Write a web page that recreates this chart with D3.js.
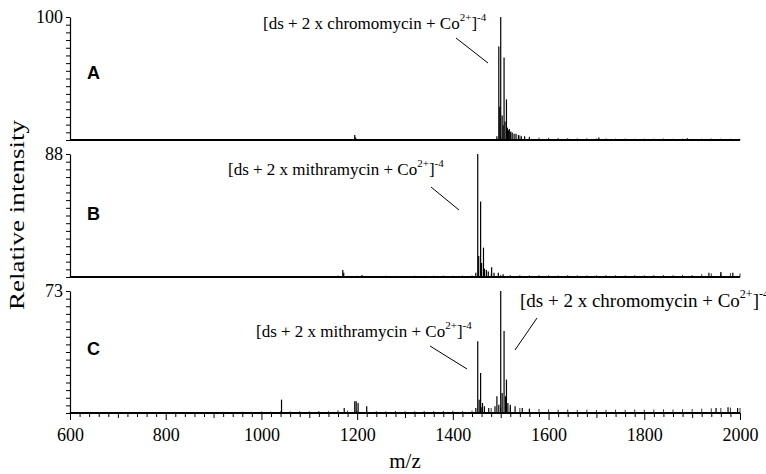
<!DOCTYPE html>
<html lang="en">
<head>
<meta charset="utf-8">
<title>ESI spectra</title>
<script src="https://cdn.jsdelivr.net/npm/d3@7/dist/d3.min.js"></script>
<style>
  body { margin: 0; background: #fff; }
</style>
</head>
<body>
<script>
var serif = "'Liberation Serif', 'Times New Roman', serif";

// panel names, top values of the y axes
var panels = ["A", "B", "C"];
var yMax = [100, 88, 73];

// peaks [m/z, relative intensity]
var peaksA = [[1195, 4], [1197, 2], [1492, 3], [1496, 76], [1498, 27], [1500, 100], [1503, 20],
  [1505, 12], [1507, 67], [1509, 15], [1512, 33], [1514, 10], [1516, 8], [1518, 9], [1521, 7],
  [1524, 6], [1528, 5], [1532, 5], [1537, 4], [1543, 3], [1550, 3], [1560, 2], [1705, 2], [1890, 1.5]];
var peaksB = [[1170, 5], [1172, 3], [1210, 1.5], [1448, 3], [1452, 88], [1454, 15], [1458, 54],
  [1460, 10], [1464, 21], [1466, 6], [1470, 5], [1474, 4], [1481, 7], [1486, 3], [1495, 3], [1505, 2],
  [1935, 3], [1960, 3.5], [1985, 3]];
var peaksC = [[1042, 8], [1173, 3], [1195, 7], [1198, 7], [1202, 6], [1220, 4], [1448, 3], [1452, 43],
  [1455, 8], [1458, 24], [1462, 6], [1466, 4], [1475, 3], [1488, 4], [1492, 10], [1496, 5], [1500, 73],
  [1503, 12], [1507, 49], [1510, 10], [1512, 20], [1515, 6], [1520, 5], [1530, 4], [1545, 3], [1560, 2.5],
  [1950, 3], [1975, 3.5], [1995, 3]];

// baseline noise, every 20 m/z from 600 to 2000
var noiseMz = d3.range(600, 2001, 20);
var noiseA = [0.2,0.3,0.2,0.3,0.2,0.3,0.2,0.4,0.3,0.2, 0.3,0.2,0.3,0.4,0.3,0.2,0.3,0.4,0.3,0.3,
  0.4,0.3,0.5,0.4,0.3,0.5,0.4,0.4,0.5,0.6, 0.6,0.5,0.4,0.5,0.6,0.5,0.4,0.6,0.5,0.5,
  0.6,0.5,0.7,0.6,0.8,2.5,5.5,3.8,2.6,2.0, 1.8,1.6,1.5,1.3,1.4,1.2,1.3,1.1,1.2,1.0,
  1.1,1.0,1.2,1.0,1.1,0.9,1.0,1.2,1.1,1.0, 0.9];
var noiseB = [0.3,0.4,0.3,0.5,0.3,0.4,0.5,0.3,0.4,0.5, 0.4,0.5,0.4,0.6,0.5,0.4,0.6,0.5,0.4,0.6,
  0.5,0.6,0.7,0.5,0.6,0.8,0.6,0.7,1.0,0.8, 0.9,0.8,0.7,0.9,0.8,0.7,0.9,0.8,0.9,1.0,
  0.9,1.0,1.1,3.0,2.5,1.6,1.4,1.3,1.2,1.3, 1.2,1.1,1.3,1.2,1.1,1.2,1.3,1.2,1.1,1.3,
  1.2,1.3,1.4,1.3,1.5,1.4,2.0,2.6,2.4,2.8, 2.5];
var noiseC = [0.3,0.4,0.3,0.4,0.3,0.5,0.4,0.3,0.5,0.4, 0.5,0.4,0.6,0.5,0.6,0.5,0.7,0.6,0.8,0.7,
  0.9,0.8,1.0,0.9,1.1,1.0,1.2,1.1,1.6,1.4, 1.3,1.2,1.1,1.0,1.2,1.1,1.0,1.2,1.1,1.2,
  1.3,1.2,1.4,3.5,3.0,3.2,3.4,3.0,2.6,2.4, 2.2,2.0,2.1,1.9,2.0,1.8,1.9,2.0,1.9,2.1,
  2.0,2.1,2.2,2.1,2.3,2.4,2.6,2.8,3.0,3.2, 3.0];

var xTicks = d3.range(600, 2001, 20);

var peaks = [peaksA, peaksB, peaksC];
var noise = [noiseA, noiseB, noiseC];

var W = 766, H = 474;
var svg = d3.select("body").append("svg").attr("width", W).attr("height", H);

var x = d3.scaleLinear().domain([600, 2000]).range([70, 740]);

// vertical extent of each panel: [baseline, top]
var bands = [[140, 17], [277, 154], [413, 291]];
var labelY = [79, 220, 355];

panels.forEach(function(p, i) {
  var y = d3.scaleLinear().domain([0, yMax[i]]).range(bands[i]);
  var g = svg.append("g");

  // left axis
  var yAxis = d3.axisLeft(y)
      .tickValues(d3.range(0, 17).map(function(k) { return k * yMax[i] / 16; }))
      .tickSize(4).tickSizeOuter(0)
      .tickFormat(function(d, k) { return k === 16 ? yMax[i] : ""; });
  var ya = g.append("g").attr("transform", "translate(70,0)").call(yAxis);
  ya.select(".domain").attr("stroke-width", 1.2);
  ya.selectAll("text").style("font-family", serif).style("font-size", "18px")
    .attr("fill", "#000").attr("x", -7);

  // noise
  g.selectAll("line.nz").data(noiseMz).enter().append("line")
    .attr("class", "nz")
    .attr("x1", function(m) { return x(m); }).attr("x2", function(m) { return x(m); })
    .attr("y1", y(0)).attr("y2", function(m, k) { return y(noise[i][k]); })
    .attr("stroke", "#000").attr("stroke-width", 0.8);

  // peaks
  g.selectAll("line.pk").data(peaks[i]).enter().append("line")
    .attr("class", "pk")
    .attr("x1", function(d) { return x(d[0]); }).attr("x2", function(d) { return x(d[0]); })
    .attr("y1", y(0)).attr("y2", function(d) { return y(d[1]); })
    .attr("stroke", "#000").attr("stroke-width", 1.2);

  // baseline
  g.append("line").attr("x1", 70).attr("x2", 740).attr("y1", y(0)).attr("y2", y(0))
    .attr("stroke", "#000").attr("stroke-width", 2);

  g.append("text").text(p).attr("x", 87).attr("y", labelY[i])
    .style("font-family", "'Liberation Sans', Arial, sans-serif")
    .style("font-weight", "bold").style("font-size", "18px");
});

// bottom axis
var xAxis = d3.axisBottom(x).tickValues(xTicks).tickSizeOuter(0)
  .tickFormat(function(d) { return d % 200 === 0 ? d : ""; });
var xa = svg.append("g").attr("transform", "translate(0,413)").call(xAxis);
xa.select(".domain").remove();
xa.selectAll(".tick line").attr("y2", function(d) { return d % 200 === 0 ? 7 : (d % 100 === 0 ? 5 : 4); });
xa.selectAll(".tick text").style("font-family", serif).style("font-size", "18px")
  .attr("fill", "#000").attr("y", 15);

svg.append("text").text("m/z").attr("x", 405).attr("y", 468)
  .attr("text-anchor", "middle").style("font-family", serif).style("font-size", "21px");

svg.append("text").text("Relative intensity")
  .attr("transform", "translate(24,215) rotate(-90)")
  .attr("text-anchor", "middle").style("font-family", serif).style("font-size", "21px")
  .attr("textLength", 190).attr("lengthAdjust", "spacingAndGlyphs");

// annotations
function annot(name, tx, ty, size, line) {
  var t = svg.append("text").attr("x", tx).attr("y", ty)
    .style("font-family", serif).style("font-size", size + "px");
  var sup = Math.round(size * 0.65), up = Math.round(size * 0.47);
  t.append("tspan").text("[ds + 2 x " + name + " + Co");
  t.append("tspan").text("2+").style("font-size", sup + "px").attr("dy", -up);
  t.append("tspan").text("]").attr("dy", up);
  t.append("tspan").text("-4").style("font-size", sup + "px").attr("dy", -up);
  svg.append("line").attr("x1", line[0]).attr("y1", line[1]).attr("x2", line[2]).attr("y2", line[3])
    .attr("stroke", "#000").attr("stroke-width", 1);
}
annot("chromomycin", 263, 29, 17, [456, 38, 488, 63]);
annot("mithramycin", 228, 175, 17, [431, 187, 459, 210]);
annot("mithramycin", 256, 337, 17, [430, 346, 467, 369]);
annot("chromomycin", 520, 307, 19, [537, 318, 515, 350]);
</script>
</body>
</html>
